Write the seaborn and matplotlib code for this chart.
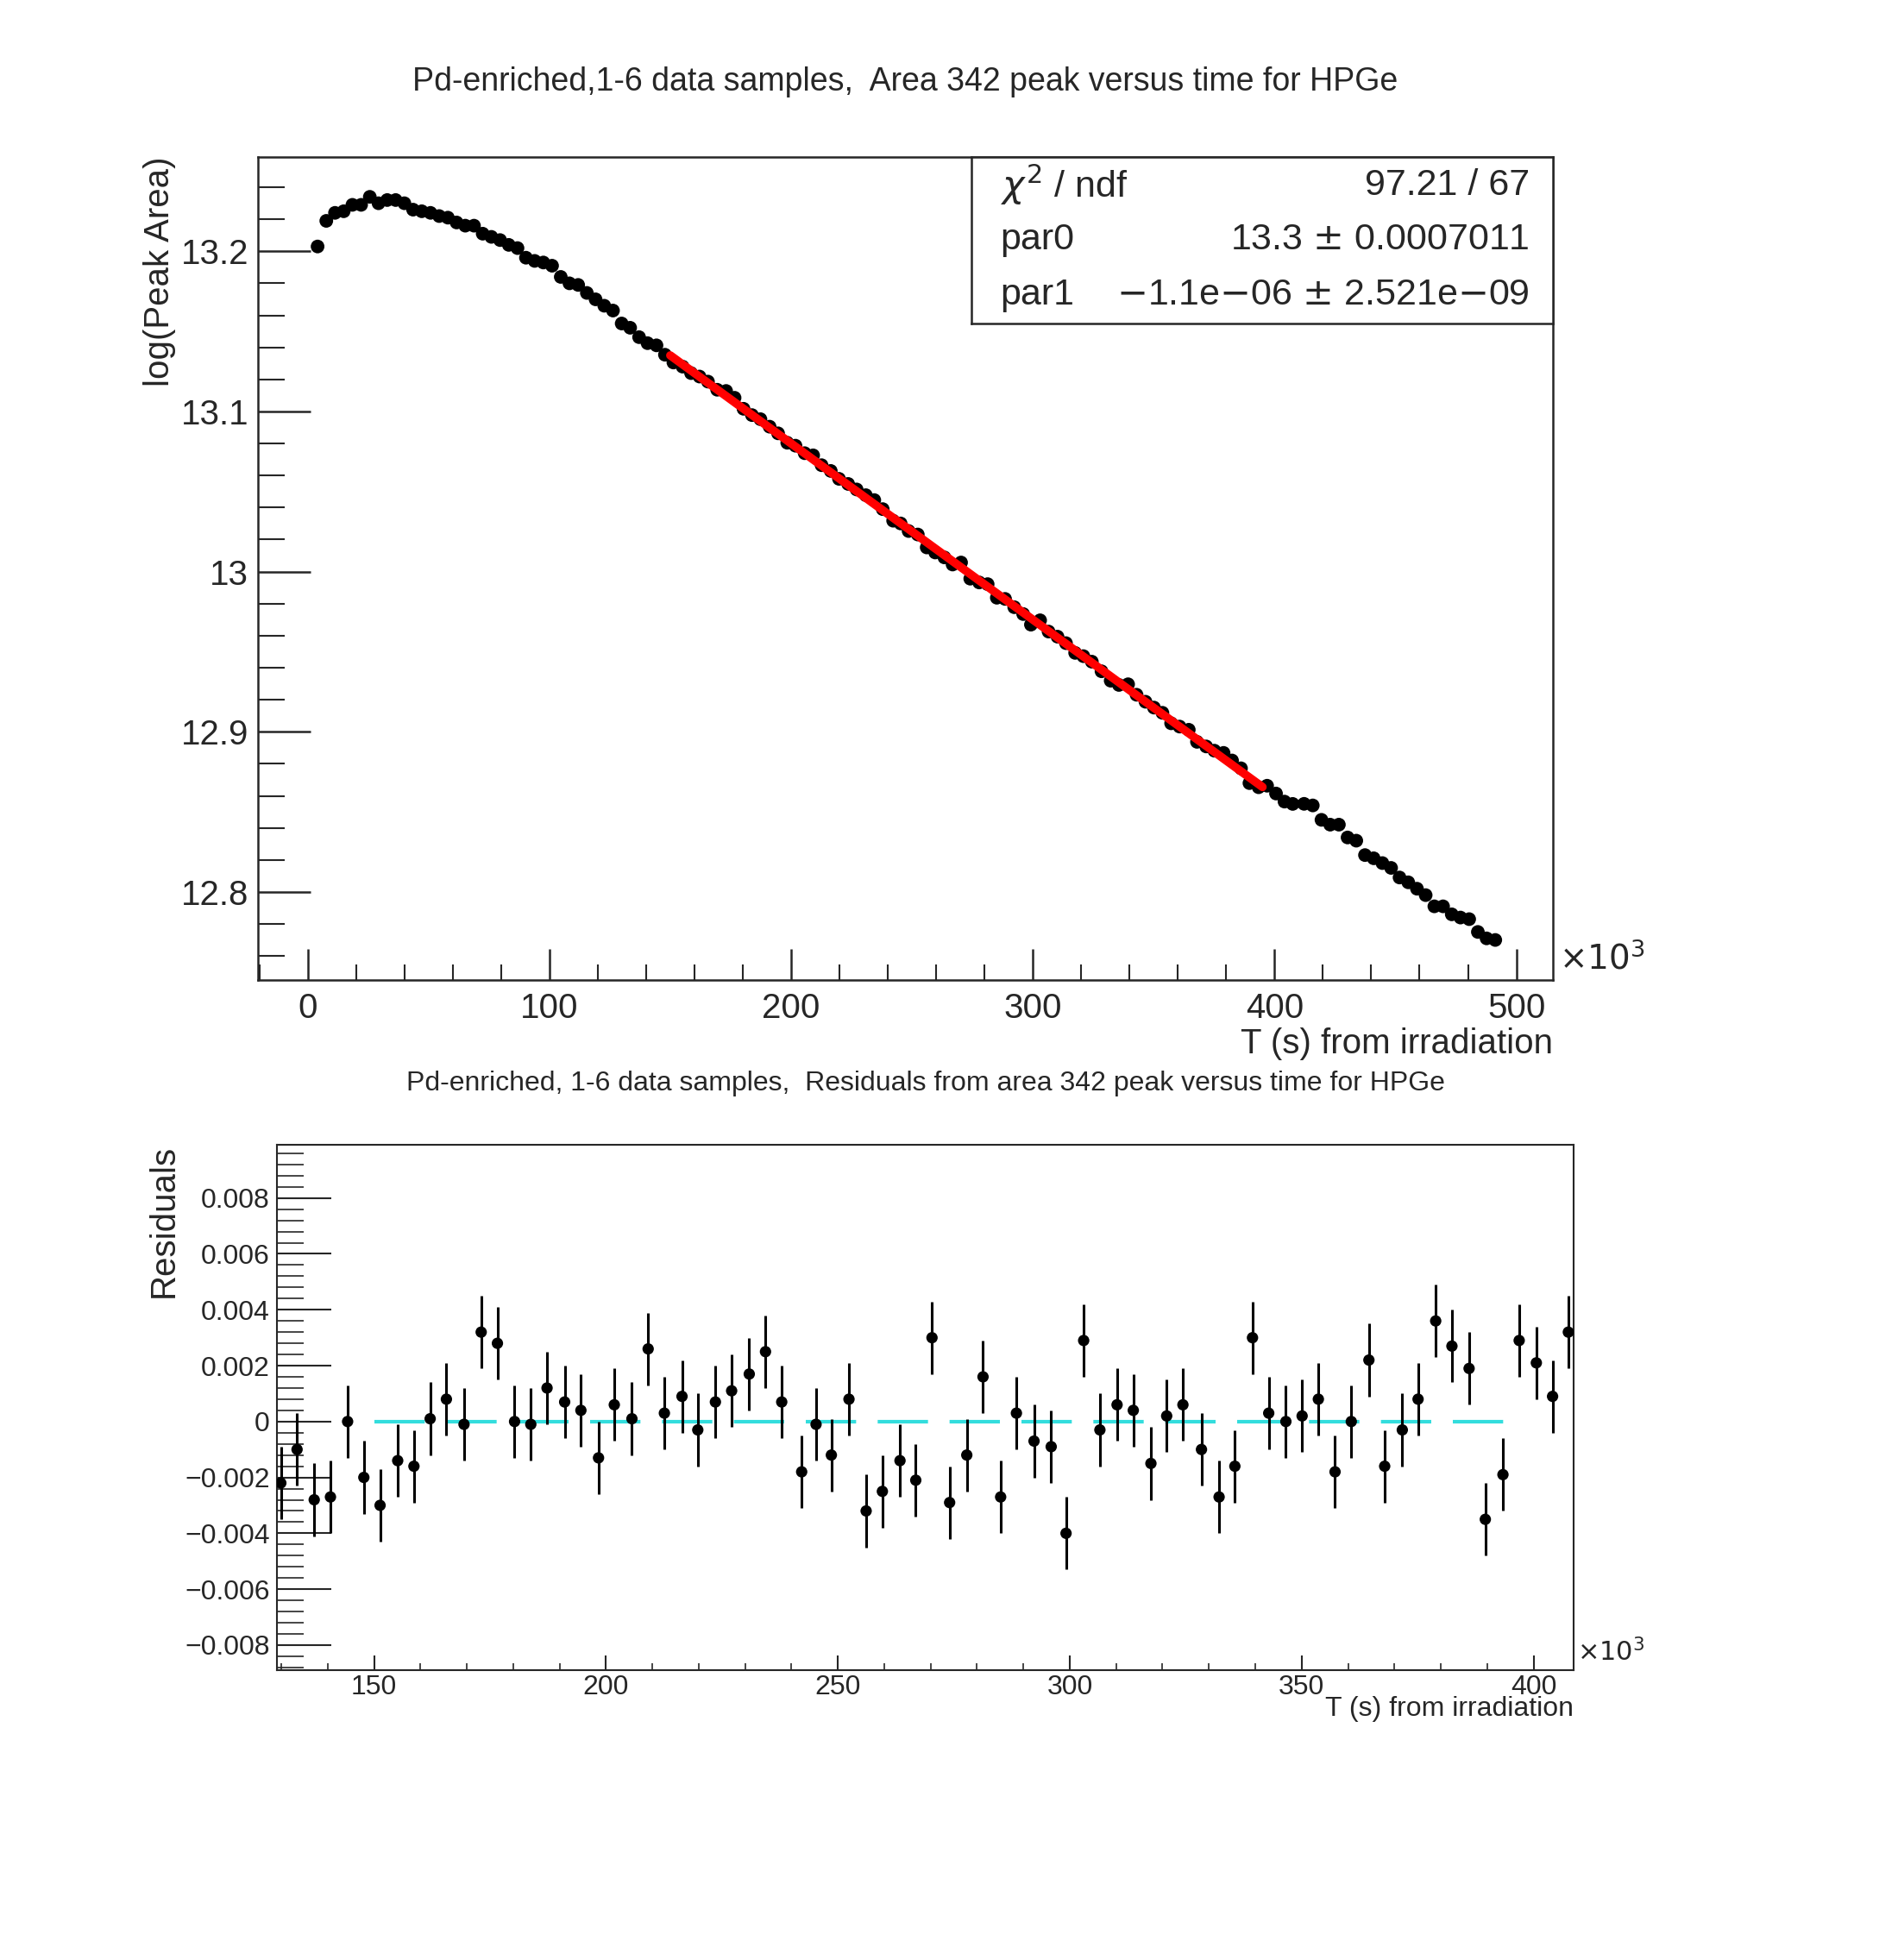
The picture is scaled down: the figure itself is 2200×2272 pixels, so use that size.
import numpy as np
import pandas as pd
import matplotlib
matplotlib.use("Agg")
import matplotlib.pyplot as plt
from matplotlib.ticker import MultipleLocator
import seaborn as sns

# early part of the decay curve (t in 1e3 s, log area)
t_early = [4.1, 7.7, 11.3, 14.9, 18.5, 22.1, 25.7, 29.3, 32.9, 36.4, 40.0, 43.6,
           47.2, 50.8, 54.4, 58.0, 61.6, 65.2, 68.8, 72.4, 76.0, 79.6, 83.2, 86.8,
           90.3, 93.9, 97.5, 101.1, 104.7, 108.3, 111.9, 115.5, 119.1, 122.7, 126.3]
y_early = [13.203, 13.219, 13.224, 13.225, 13.229, 13.229, 13.234, 13.230, 13.232,
           13.232, 13.230, 13.226, 13.225, 13.224, 13.222, 13.221, 13.218, 13.216,
           13.216, 13.211, 13.209, 13.207, 13.204, 13.202, 13.196, 13.194, 13.193,
           13.191, 13.184, 13.180, 13.179, 13.174, 13.170, 13.166, 13.163]

# residual panel points
t_res = [129.9, 133.4, 137.1, 140.6, 144.3, 147.8, 151.3, 155.1, 158.6, 162.1,
         165.6, 169.4, 173.1, 176.6, 180.3, 183.8, 187.3, 191.1, 194.6, 198.4,
         201.8, 205.6, 209.1, 212.6, 216.4, 219.8, 223.6, 227.1, 230.9, 234.4,
         237.9, 242.2, 245.3, 248.6, 252.4, 256.1, 259.6, 263.4, 266.8, 270.3,
         274.1, 277.8, 281.3, 285.1, 288.5, 292.3, 296.0, 299.2, 303.0, 306.5,
         310.2, 313.7, 317.5, 320.9, 324.4, 328.4, 332.2, 335.6, 339.4, 342.9,
         346.6, 350.1, 353.6, 357.2, 360.7, 364.5, 367.9, 371.7, 375.1, 378.9,
         382.4, 386.1, 389.6, 393.4, 396.9, 400.6, 404.1, 407.5]
residuals = [-0.0022, -0.0010, -0.0028, -0.0027, 0.0000, -0.0020, -0.0030, -0.0014,
             -0.0016, 0.0001, 0.0008, -0.0001, 0.0032, 0.0028, 0.0000, -0.0001,
             0.0012, 0.0007, 0.0004, -0.0013, 0.0006, 0.0001, 0.0026, 0.0003,
             0.0009, -0.0003, 0.0007, 0.0011, 0.0017, 0.0025, 0.0007, -0.0018,
             -0.0001, -0.0012, 0.0008, -0.0032, -0.0025, -0.0014, -0.0021, 0.0030,
             -0.0029, -0.0012, 0.0016, -0.0027, 0.0003, -0.0007, -0.0009, -0.0040,
             0.0029, -0.0003, 0.0006, 0.0004, -0.0015, 0.0002, 0.0006, -0.0010,
             -0.0027, -0.0016, 0.0030, 0.0003, 0.0000, 0.0002, 0.0008, -0.0018,
             0.0000, 0.0022, -0.0016, -0.0003, 0.0008, 0.0036, 0.0027, 0.0019,
             -0.0035, -0.0019, 0.0029, 0.0021, 0.0009, 0.0032]
res_err = [0.0013] * len(t_res)

# late part of the decay curve
t_late = [412.2, 415.8, 419.4, 423.0, 426.6, 430.2, 433.8, 437.4, 441.0, 444.6,
          448.2, 451.7, 455.3, 458.9, 462.5, 466.1, 469.7, 473.3, 476.9, 480.5,
          484.1, 487.7, 491.3]
y_late = [12.855, 12.854, 12.845, 12.842, 12.842, 12.834, 12.832, 12.823, 12.821,
          12.818, 12.815, 12.809, 12.806, 12.802, 12.798, 12.791, 12.791, 12.786,
          12.784, 12.783, 12.775, 12.771, 12.770]

par0, par1 = 13.3, -1.1e-06
fit_range = [150, 395]

# points in the fit window: fit line plus residual
y_mid = [par0 + par1 * t * 1e3 + r for t, r in zip(t_res, residuals)]

top = pd.DataFrame({"t": t_early + t_res + t_late, "y": y_early + y_mid + y_late})
res = pd.DataFrame({"t": t_res, "r": residuals, "e": res_err})

sns.set_style("ticks")
plt.rcParams["font.family"] = ["Liberation Sans", "DejaVu Sans"]

fig = plt.figure(figsize=(22, 22.72), dpi=100)

# ---- top panel
ax = fig.add_axes([0.136, 0.5, 0.682, 0.42])
sns.scatterplot(data=top, x="t", y="y", color="black", s=130, edgecolor="none", ax=ax, zorder=2)
ft = np.array(fit_range, dtype=float)
ax.plot(ft, par0 + par1 * ft * 1e3, color="red", lw=7, zorder=3)
ax.set_xlim(-20.5, 515)
ax.set_ylim(12.745, 13.259)
ax.xaxis.set_major_locator(MultipleLocator(100))
ax.xaxis.set_minor_locator(MultipleLocator(20))
ax.yaxis.set_minor_locator(MultipleLocator(0.02))
ax.set_yticks([12.8, 12.9, 13.0, 13.1, 13.2])
ax.set_yticklabels(["12.8", "12.9", "13", "13.1", "13.2"])
ax.tick_params(axis="x", which="major", direction="in", length=26, width=1.8, labelsize=29, pad=10)
ax.tick_params(axis="x", which="minor", direction="in", length=13, width=1.5)
ax.tick_params(axis="y", which="major", direction="in", length=44, width=1.8, labelsize=29, pad=8)
ax.tick_params(axis="y", which="minor", direction="in", length=22, width=1.5)
for s in ax.spines.values():
    s.set_linewidth(1.8)
ax.set_xlabel("T (s) from irradiation", fontsize=29, loc="right", labelpad=2)
ax.set_ylabel("log(Peak Area)", fontsize=29, loc="top")
ax.text(1.005, 0.005, r"$\times10^3$", transform=ax.transAxes, fontsize=28, va="bottom")
ax.set_title("Pd-enriched,1-6 data samples,  Area 342 peak versus time for HPGe",
             fontsize=27, pad=55)

# stats box
bx = fig.add_axes([0.5118, 0.835, 0.3062, 0.085])
bx.set_xticks([]); bx.set_yticks([])
for s in bx.spines.values():
    s.set_linewidth(1.8)
rows = [(r"$\chi^2$ / ndf", "97.21 / 67"),
        ("par0", r"13.3 $\pm$ 0.0007011"),
        ("par1", r"$-$1.1e$-$06 $\pm$ 2.521e$-$09")]
for i, (a, b) in enumerate(rows):
    yy = 0.83 - i * 0.33
    bx.text(0.05, yy, a, fontsize=31, va="center")
    bx.text(0.96, yy, b, fontsize=31, va="center", ha="right")

# ---- residual panel
ax2 = fig.add_axes([0.146, 0.148, 0.683, 0.268])
ax2.errorbar(res["t"], res["r"], yerr=res["e"], fmt="none", ecolor="black", elinewidth=2.2)
sns.scatterplot(data=res, x="t", y="r", color="black", s=90, edgecolor="none", ax=ax2, zorder=3)
ax2.plot(ft, [0, 0], color="#33dddd", lw=3, dashes=(14, 6), zorder=1)
ax2.set_xlim(129.1, 408.6)
ax2.set_ylim(-0.00889, 0.00991)
ax2.xaxis.set_major_locator(MultipleLocator(50))
ax2.xaxis.set_minor_locator(MultipleLocator(10))
ax2.yaxis.set_minor_locator(MultipleLocator(0.0004))
ax2.set_yticks([-0.008, -0.006, -0.004, -0.002, 0, 0.002, 0.004, 0.006, 0.008])
ax2.set_yticklabels(["\u22120.008", "\u22120.006", "\u22120.004", "\u22120.002", "0",
                     "0.002", "0.004", "0.006", "0.008"])
ax2.tick_params(axis="y", which="major", direction="in", length=45, width=1.5, labelsize=23, pad=6)
ax2.tick_params(axis="y", which="minor", direction="in", length=22, width=1.2)
ax2.tick_params(axis="x", which="major", direction="in", length=12, width=1.5, labelsize=23, pad=4)
ax2.tick_params(axis="x", which="minor", direction="in", length=6, width=1.2)
for s in ax2.spines.values():
    s.set_linewidth(1.5)
ax2.set_xlabel("T (s) from irradiation", fontsize=23, loc="right", labelpad=-4)
ax2.set_ylabel("Residuals", fontsize=29, loc="top")
ax2.text(1.003, 0.005, r"$\times10^3$", transform=ax2.transAxes, fontsize=22, va="bottom")
ax2.set_title("Pd-enriched, 1-6 data samples,  Residuals from area 342 peak versus time for HPGe",
              fontsize=23, pad=45)

fig.savefig("out.png", dpi=100)
